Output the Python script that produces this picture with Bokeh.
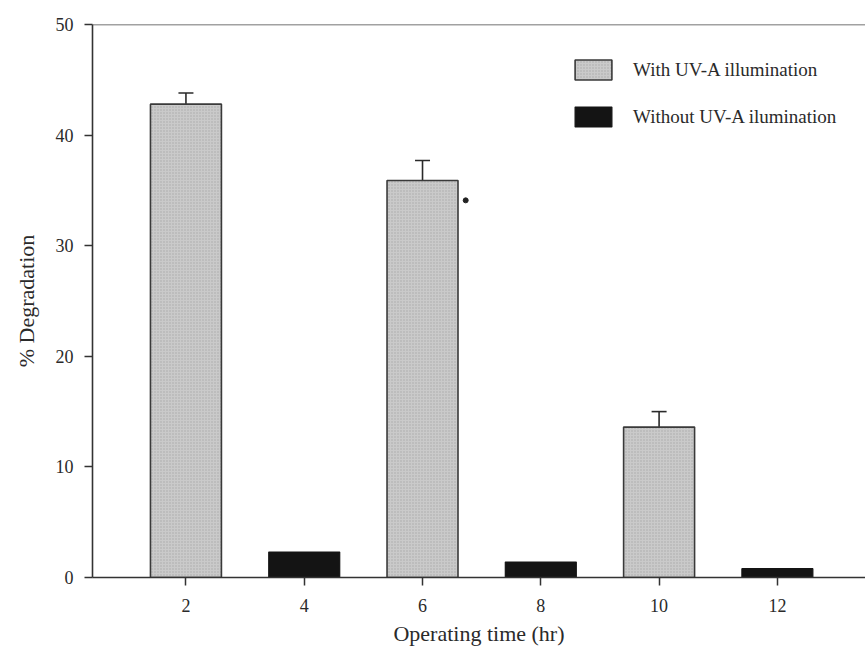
from bokeh.plotting import figure
from bokeh.models import ColumnDataSource, Whisker, TeeHead, Span, Legend, LegendItem, FixedTicker
from bokeh.embed import file_html
from bokeh.resources import INLINE

# Data
uv_time = [2, 6, 10]
uv_deg = [42.8, 35.9, 13.6]
uv_err = [1.0, 1.8, 1.4]
dark_time = [4, 8, 12]
dark_deg = [2.3, 1.4, 0.8]
x_ticks = [2, 4, 6, 8, 10, 12]
y_ticks = [0, 10, 20, 30, 40, 50]
note_x = [6.73]
note_y = [34.1]

FONT = "Liberation Serif"
INK = "#2a2a2a"

p = figure(width=865, height=653, x_range=(0.42, 13.49), y_range=(0, 50),
           output_backend="svg", toolbar_location=None,
           min_border_left=92, min_border_right=0, min_border_top=24, min_border_bottom=76)
p.outline_line_color = None
p.xgrid.grid_line_color = None
p.ygrid.grid_line_color = None
p.background_fill_color = "white"
p.border_fill_color = "white"

uv_src = ColumnDataSource(dict(x=uv_time, top=uv_deg,
                               upper=[v + e for v, e in zip(uv_deg, uv_err)]))
dark_src = ColumnDataSource(dict(x=dark_time, top=dark_deg))

r_uv = p.vbar(x="x", top="top", width=1.2, bottom=0, source=uv_src,
              fill_color="#cacaca", line_color="#3a3a3a", line_width=1.6,
              hatch_pattern="dot", hatch_color="#a9a9a9", hatch_scale=3, hatch_weight=1)
r_dark = p.vbar(x="x", top="top", width=1.2, bottom=0, source=dark_src,
                fill_color="#141414", line_color="#141414", line_width=1.2)

wh = Whisker(base="x", upper="upper", lower="top", source=uv_src,
             line_color="#2a2a2a", line_width=1.6,
             upper_head=TeeHead(size=15, line_color="#2a2a2a", line_width=1.6),
             lower_head=None, level="underlay")
p.add_layout(wh)

p.scatter(x=note_x, y=note_y, size=5, color="#222222")

p.add_layout(Span(location=50, dimension="width", line_color="#444444", line_width=1.6))

for ax in (p.xaxis[0], p.yaxis[0]):
    ax.axis_line_color = "#333333"
    ax.axis_line_width = 1.6
    ax.major_tick_line_color = "#333333"
    ax.major_tick_line_width = 1.5
    ax.major_tick_in = 0
    ax.major_tick_out = 8
    ax.minor_tick_line_color = None
    ax.major_label_text_font = FONT
    ax.major_label_text_font_size = "18px"
    ax.major_label_text_color = INK
    ax.axis_label_text_font = FONT
    ax.axis_label_text_font_style = "normal"
    ax.axis_label_text_color = INK

p.xaxis.ticker = FixedTicker(ticks=x_ticks)
p.yaxis.ticker = FixedTicker(ticks=y_ticks)
p.xaxis.axis_label = "Operating time (hr)"
p.yaxis.axis_label = "% Degradation"
p.xaxis.axis_label_text_font_size = "22px"
p.yaxis.axis_label_text_font_size = "22px"
p.xaxis.major_label_standoff = 13
p.yaxis.major_label_standoff = 11
p.xaxis.axis_label_standoff = 6
p.yaxis.axis_label_standoff = 14

legend = Legend(items=[LegendItem(label="With UV-A illumination", renderers=[r_uv]),
                       LegendItem(label="Without UV-A ilumination", renderers=[r_dark])],
                location=(478, 448), padding=0, margin=0, spacing=22,
                glyph_width=46, glyph_height=25, label_standoff=17,
                label_text_font=FONT, label_text_font_size="19px", label_text_color=INK,
                border_line_color=None, background_fill_alpha=0)
p.add_layout(legend, "center")

open("out.html", "w").write(file_html(p, INLINE))
